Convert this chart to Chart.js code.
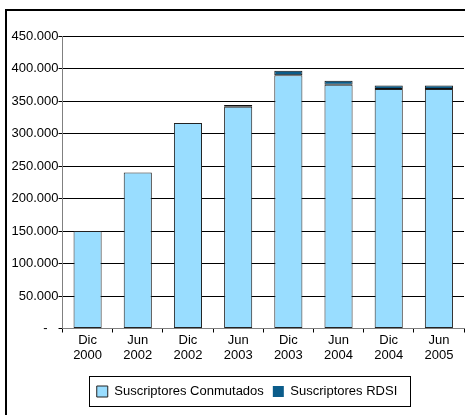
<!DOCTYPE html>
<html>
<head>
<meta charset="utf-8">
<title>Suscriptores</title>
<script src="https://cdn.jsdelivr.net/npm/chart.js@4/dist/chart.umd.min.js"></script>
<style>
  html, body { margin: 0; padding: 0; background: #fff; }
  #chart { display: block; }
</style>
</head>
<body>
<canvas id="chart" width="465" height="415"></canvas>
<script>
// Datos
const meses = ['Dic', 'Jun', 'Dic', 'Jun', 'Dic', 'Jun', 'Dic', 'Jun'];
const anios = ['2000', '2002', '2002', '2003', '2003', '2004', '2004', '2005'];
const conmutados = [150000, 240000, 316000, 341000, 389500, 375000, 368500, 368500];
const rdsi = [0, 0, 0, 3000, 7000, 6000, 5500, 5500];
const yMax = 450000;
const yStep = 50000;

function formatMiles(v) {
    if (v === 0) return '-   ';
    return String(v).replace(/\B(?=(\d{3})+(?!\d))/g, '.');
}

// marco exterior (lado izquierdo y superior)
const framePlugin = {
    id: 'frame',
    afterDraw(chart) {
        const ctx = chart.ctx;
        ctx.save();
        ctx.strokeStyle = '#000';
        ctx.lineWidth = 2;
        ctx.beginPath();
        ctx.moveTo(6, 415);
        ctx.lineTo(6, 10);
        ctx.lineTo(465, 10);
        ctx.stroke();
        ctx.restore();
    }
};

// la leyenda va un poco a la derecha del centro del lienzo
const legendShiftPlugin = {
    id: 'legendShift',
    afterLayout(chart) {
        const lg = chart.legend;
        if (!lg) return;
        lg.left = 30;
        lg.right = 464;
    }
};

// recuadro alrededor de la leyenda
const legendBoxPlugin = {
    id: 'legendBox',
    afterDraw(chart) {
        const boxes = chart.legend && chart.legend.legendHitBoxes;
        if (!boxes || !boxes.length) return;
        const first = boxes[0];
        const last = boxes[boxes.length - 1];
        const ctx = chart.ctx;
        ctx.save();
        ctx.strokeStyle = '#000';
        ctx.lineWidth = 1;
        const x0 = Math.round(first.left - 8) + 0.5;
        const x1 = Math.round(last.left + last.width + 13) + 0.5;
        const y0 = Math.round(first.top - 9) + 0.5;
        const y1 = Math.round(first.top + first.height + 8) + 0.5;
        ctx.strokeRect(x0, y0, x1 - x0, y1 - y0);
        ctx.restore();
    }
};

const ctx = document.getElementById('chart').getContext('2d');
new Chart(ctx, {
    type: 'bar',
    data: {
        labels: meses.map((m, i) => [m, anios[i]]),
        datasets: [{
            label: 'Suscriptores Conmutados',
            data: conmutados,
            backgroundColor: '#99DDFF',
            borderColor: '#222',
            borderWidth: 1,
            borderSkipped: false
        }, {
            label: 'Suscriptores RDSI',
            data: rdsi,
            backgroundColor: '#0B5C8A',
            borderColor: '#111',
            borderWidth: c => (c.raw ? 1 : 0),
            borderSkipped: false
        }]
    },
    options: {
        responsive: false,
        devicePixelRatio: 1,
        animation: false,
        categoryPercentage: 1,
        barPercentage: 0.56,
        layout: { padding: { left: 0, right: 1, top: 36, bottom: 7 } },
        plugins: {
            title: { display: false },
            tooltip: { enabled: false },
            legend: {
                position: 'bottom',
                labels: {
                    color: '#000',
                    font: { family: 'Liberation Sans, Arial, sans-serif', size: 13 },
                    boxWidth: 11,
                    boxHeight: 11,
                    padding: 9,
                    useBorderRadius: false
                }
            }
        },
        scales: {
            x: {
                stacked: true,
                afterFit: s => { s.height = 47.5; },
                grid: {
                    drawOnChartArea: false,
                    drawTicks: true,
                    tickLength: 4,
                    color: '#000'
                },
                border: { color: '#808080', width: 1 },
                ticks: {
                    color: '#000',
                    padding: 0,
                    maxRotation: 0,
                    autoSkip: false,
                    font: { family: 'Liberation Sans, Arial, sans-serif', size: 13, lineHeight: 1.15 }
                }
            },
            y: {
                stacked: true,
                min: 0,
                max: yMax,
                afterFit: s => { s.width = 62.5; },
                grid: {
                    color: '#000',
                    lineWidth: 1,
                    tickLength: 4
                },
                border: { color: '#808080', width: 1 },
                ticks: {
                    stepSize: yStep,
                    color: '#000',
                    padding: 0,
                    callback: v => formatMiles(v),
                    font: { family: 'Liberation Sans, Arial, sans-serif', size: 13 }
                }
            }
        }
    },
    plugins: [framePlugin, legendShiftPlugin, legendBoxPlugin]
});
</script>
</body>
</html>
